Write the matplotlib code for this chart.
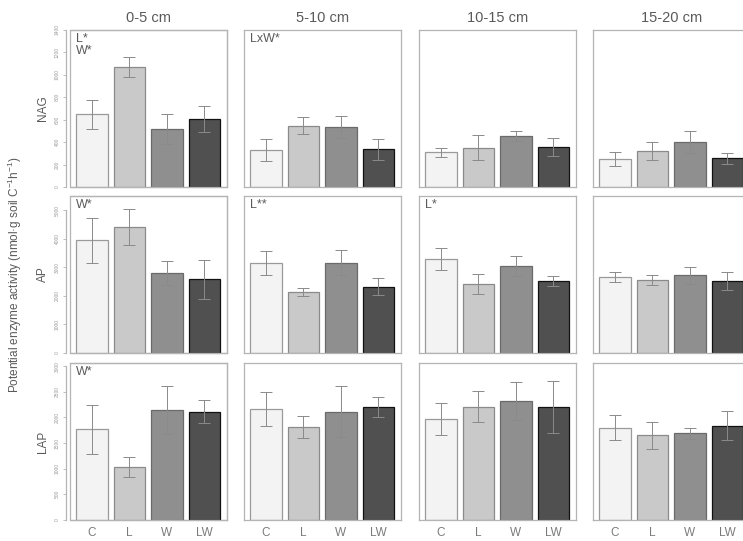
import numpy as np
import matplotlib.pyplot as plt
from matplotlib.patches import Rectangle

plt.rcParams["font.family"] = ["Liberation Sans", "DejaVu Sans"]
plt.rcParams["mathtext.fontset"] = "custom"
plt.rcParams["mathtext.rm"] = "Liberation Sans"
plt.rcParams["mathtext.it"] = "Liberation Sans:italic"

# ---------------- DATA ----------------

treatments = ["C", "L", "W", "LW"]
depths = ["0-5 cm", "5-10 cm", "10-15 cm", "15-20 cm"]
enzymes = ["NAG", "AP", "LAP"]

# mean per depth (rows) x treatment (cols)
nag_mean = [[650, 1070, 520, 605],
            [330, 545, 535, 335],
            [310, 350, 455, 355],
            [250, 320, 400, 255]]
nag_se = [[130, 85, 135, 115],
          [95, 75, 100, 90],
          [40, 110, 45, 80],
          [60, 80, 95, 50]]

ap_mean = [[3950, 4420, 2810, 2580],
           [3160, 2150, 3170, 2320],
           [3290, 2410, 3040, 2530],
           [2650, 2550, 2730, 2520]]
ap_se = [[790, 640, 415, 690],
         [410, 140, 425, 300],
         [390, 355, 345, 170],
         [175, 180, 300, 315]]

lap_mean = [[1770, 1030, 2150, 2110],
            [2160, 1820, 2110, 2200],
            [1970, 2210, 2310, 2200],
            [1800, 1650, 1690, 1840]]
lap_se = [[480, 195, 470, 220],
          [330, 215, 495, 200],
          [315, 305, 370, 500],
          [250, 265, 105, 290]]

means = [nag_mean, ap_mean, lap_mean]
ses = [nag_se, ap_se, lap_se]

y_max = [1400, 5500, 3060]
y_ticks = [np.arange(0, 1401, 200), np.arange(0, 5001, 1000), np.arange(0, 3001, 500)]

# significance notes: (enzyme row, depth col) -> text
signif = {(0, 0): "L*\nW*", (0, 1): "LxW*", (1, 0): "W*",
          (1, 1): "L**", (1, 2): "L*", (2, 0): "W*"}

bar_colors = ["#f3f3f3", "#c9c9c9", "#8f8f8f", "#505050"]
edge_colors = ["#9a9a9a", "#8a8a8a", "#6a6a6a", "#111111"]
frame_col = "#b4b4b4"
text_col = "#5a5a5a"

# ---------------- FIGURE ----------------

W, H = 743, 541
fig = plt.figure(figsize=(W / 100, H / 100), dpi=100)

col_left = [70, 244, 419, 593]
row_top = [30, 196, 363]
pw, ph = 157, 157

x = np.arange(len(treatments))

for r in range(3):
    for c in range(4):
        ax = fig.add_axes([col_left[c] / W, 1 - (row_top[r] + ph) / H, pw / W, ph / H])
        ax.bar(x, means[r][c], width=0.84, color=bar_colors,
               edgecolor=edge_colors, linewidth=0.9, zorder=2)
        ax.errorbar(x, means[r][c], yerr=ses[r][c], fmt="none",
                    ecolor="#8a8a8a", elinewidth=0.7, capsize=4,
                    capthick=0.7, zorder=3)
        ax.set_xlim(-0.58, 3.6)
        ax.set_ylim(0, y_max[r])

        for s in ax.spines.values():
            s.set_color(frame_col)
            s.set_linewidth(0.9)

        if c == 0:
            # R-style axis line slightly outside the box
            ax.spines["left"].set_position(("outward", 3))
            ax.spines["left"].set_bounds(0, y_ticks[r][-1])
            ax.add_patch(Rectangle((0, 0), 1, 1, transform=ax.transAxes,
                                   fill=False, edgecolor=frame_col,
                                   linewidth=0.9, clip_on=False))
            ax.set_yticks(y_ticks[r])
            ax.set_yticklabels([str(v) for v in y_ticks[r]], rotation=90,
                               va="center", fontsize=3.5, color="#999999")
            ax.tick_params(axis="y", length=2.5, width=0.6, color=frame_col, pad=2)
            ax.set_ylabel(enzymes[r], fontsize=8.5, color=text_col, labelpad=4)
        else:
            ax.set_yticks([])

        if r == 2:
            ax.set_xticks(x)
            ax.set_xticklabels(treatments, fontsize=8.5, color="#7a7a7a")
            ax.tick_params(axis="x", length=0, pad=5)
        else:
            ax.set_xticks([])

        if r == 0:
            ax.set_title(depths[c], fontsize=10.5, color=text_col, pad=6)

        if (r, c) in signif:
            ax.text(0.04, 0.98, signif[(r, c)], transform=ax.transAxes,
                    ha="left", va="top", fontsize=9, color=text_col,
                    linespacing=0.95)

fig.text(15 / W, 1 - 275 / H,
         "Potential enzyme activity (nmol\u00b7g soil C$^{-1}$h$^{-1}$)",
         rotation=90, ha="center", va="center", fontsize=8.5, color=text_col)

fig.savefig("out.png", dpi=100)
